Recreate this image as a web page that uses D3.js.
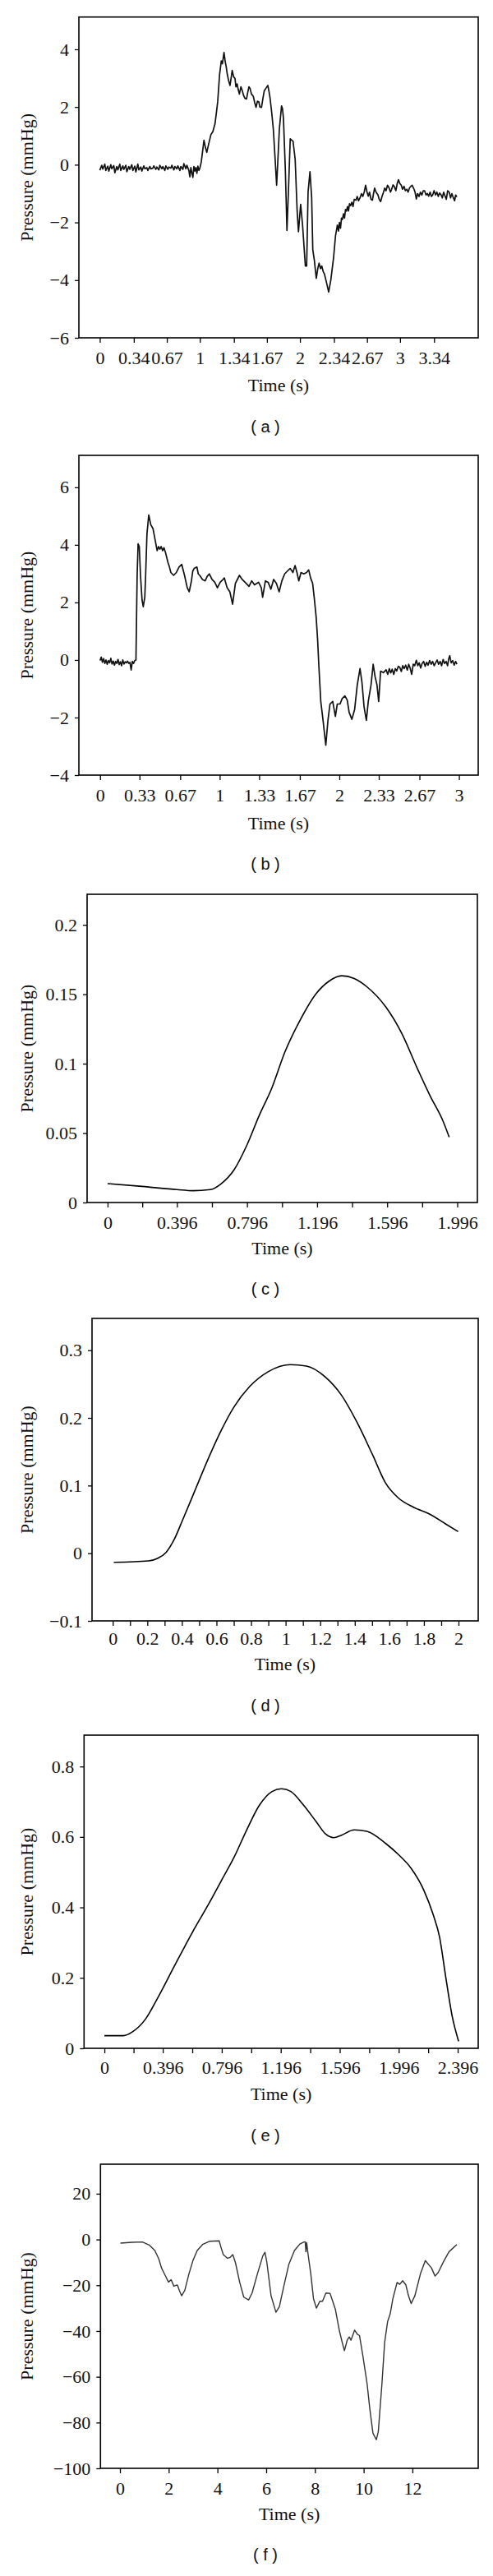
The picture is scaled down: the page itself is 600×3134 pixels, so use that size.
<!DOCTYPE html>
<html>
<head>
<meta charset="utf-8">
<script src="https://cdn.jsdelivr.net/npm/d3@7"></script>
<style>
  body { margin: 0; background: #fff; }
  svg { display: block; }
</style>
</head>
<body>
<div id="chart"></div>
<script>
// ---- (a) ----
const timeTicksA = [0, 0.34, 0.67, 1, 1.34, 1.67, 2, 2.34, 2.67, 3, 3.34];
const timeLabelsA = ['0', '0.34', '0.67', '1', '1.34', '1.67', '2', '2.34', '2.67', '3', '3.34'];
const pressureTicksA = [-6, -4, -2, 0, 2, 4];
const traceA = [
  [0.00,-0.19],[0.02,-0.02],[0.03,-0.15],[0.05,0.02],[0.06,-0.2],[0.08,-0.05],[0.09,-0.22],[0.11,0.0],[0.12,-0.14],[0.14,-0.03],
  [0.15,-0.28],[0.17,-0.06],[0.18,-0.18],[0.20,0.02],[0.21,-0.2],[0.23,-0.04],[0.24,-0.16],[0.26,-0.02],[0.27,-0.24],[0.29,-0.06],
  [0.30,-0.16],[0.32,0.0],[0.33,-0.2],[0.35,-0.05],[0.36,-0.25],[0.38,0.02],[0.39,-0.18],[0.41,-0.08],[0.42,-0.22],[0.44,-0.04],
  [0.45,-0.14],[0.47,-0.1],[0.48,-0.2],[0.50,-0.06],[0.51,-0.14],[0.53,-0.12],[0.54,-0.04],[0.56,-0.16],[0.57,-0.08],[0.59,-0.18],
  [0.60,-0.02],[0.62,-0.14],[0.63,-0.06],[0.65,-0.2],[0.66,-0.04],[0.68,-0.16],[0.69,-0.08],[0.71,-0.12],[0.72,-0.02],[0.74,-0.18],
  [0.75,-0.06],[0.77,-0.14],[0.78,-0.04],[0.80,-0.2],[0.81,-0.06],[0.83,-0.16],[0.84,0.04],[0.86,-0.14],[0.87,-0.02],[0.89,-0.2],
  [0.90,-0.42],[0.91,-0.1],[0.92,-0.28],[0.93,-0.44],[0.94,-0.06],[0.95,-0.22],[0.96,-0.1],[0.97,-0.3],[0.98,-0.05],[0.99,-0.2],
  [1.00,-0.12],[1.014,0.1],[1.041,0.85],[1.055,0.6],[1.069,0.43],[1.09,0.75],[1.11,1.04],[1.13,1.15],[1.151,1.42],[1.165,1.8],
  [1.178,2.18],[1.197,3.13],[1.214,3.6],[1.225,3.5],[1.241,3.89],[1.252,3.6],[1.263,3.4],[1.274,3.13],[1.288,2.9],[1.301,2.75],
  [1.312,3.0],[1.323,3.27],[1.337,3.05],[1.351,2.99],[1.36,2.7],[1.372,2.8],[1.383,2.61],[1.395,2.45],[1.41,2.7],[1.424,2.56],
  [1.437,2.4],[1.45,2.3],[1.466,2.28],[1.478,2.5],[1.49,2.7],[1.501,2.65],[1.515,2.45],[1.534,2.37],[1.548,2.15],[1.561,1.99],
  [1.575,2.2],[1.589,2.18],[1.6,2.0],[1.616,1.99],[1.63,2.3],[1.643,2.56],[1.66,2.65],[1.679,2.75],[1.69,2.55],[1.701,2.32],
  [1.718,1.8],[1.734,1.23],[1.75,0.3],[1.767,-0.71],[1.78,0.2],[1.794,1.23],[1.816,2.04],[1.825,1.95],[1.835,1.61],[1.854,-0.19],
  [1.87,-2.28],[1.886,-0.8],[1.903,0.9],[1.918,0.85],[1.931,0.81],[1.952,0.19],[1.972,-1.61],[1.985,-2.32],[2.007,-1.37],[2.026,-2.09],
  [2.054,-3.51],[2.067,-3.51],[2.081,-0.95],[2.1,-0.24],[2.117,-1.14],[2.128,-2.94],[2.144,-3.32],[2.163,-3.94],[2.178,-3.6],[2.191,-3.41],
  [2.205,-3.6],[2.218,-3.51],[2.232,-3.7],[2.245,-3.79],[2.265,-4.08],[2.287,-4.41],[2.309,-3.98],[2.336,-3.22],[2.355,-2.47],[2.374,-2.09],
  [2.385,-2.3],[2.395,-2.0],[2.405,-2.2],[2.415,-1.85],[2.424,-1.9],[2.435,-1.7],[2.445,-1.85],[2.455,-1.55],[2.465,-1.61],[2.475,-1.45],
  [2.485,-1.6],[2.495,-1.35],[2.506,-1.42],[2.518,-1.3],[2.53,-1.45],[2.542,-1.2],[2.56,-1.23],[2.572,-1.1],[2.585,-1.25],[2.601,-1.14],
  [2.615,-1.0],[2.628,-1.1],[2.642,-0.95],[2.656,-0.71],[2.67,-0.95],[2.683,-1.09],[2.695,-0.95],[2.71,-1.2],[2.724,-1.23],[2.735,-1.0],
  [2.746,-0.81],[2.76,-0.95],[2.779,-1.04],[2.792,-1.2],[2.806,-1.28],[2.82,-1.1],[2.835,-0.95],[2.847,-0.81],[2.86,-0.9],[2.875,-0.71],
  [2.89,-0.8],[2.905,-0.95],[2.916,-0.85],[2.93,-0.7],[2.943,-0.76],[2.958,-0.9],[2.972,-0.65],[2.984,-0.52],[2.998,-0.65],[3.012,-0.71],
  [3.025,-0.85],[3.04,-0.75],[3.053,-0.9],[3.068,-0.85],[3.08,-0.95],[3.095,-0.8],[3.108,-0.75],[3.121,-0.71],[3.14,-0.85],[3.15,-0.95],
  [3.163,-1.19],[3.175,-1.0],[3.19,-1.1],[3.204,-0.95],[3.218,-1.05],[3.232,-0.9],[3.245,-0.9],[3.26,-1.05],[3.273,-1.0],[3.286,-1.09],
  [3.3,-0.95],[3.314,-1.1],[3.327,-1.04],[3.34,-0.9],[3.355,-1.05],[3.368,-0.95],[3.382,-1.1],[3.395,-0.98],[3.409,-1.04],[3.422,-1.15],
  [3.436,-0.95],[3.45,-1.09],[3.462,-1.2],[3.476,-0.9],[3.491,-0.95],[3.505,-1.15],[3.518,-1.0],[3.532,-1.14],[3.545,-1.25],[3.556,-1.05],
  [3.567,-1.12]
];

// ---- (b) ----
const timeTicksB = [0, 0.33, 0.67, 1, 1.33, 1.67, 2, 2.33, 2.67, 3];
const timeLabelsB = ['0', '0.33', '0.67', '1', '1.33', '1.67', '2', '2.33', '2.67', '3'];
const pressureTicksB = [-4, -2, 0, 2, 4, 6];
const traceB = [
  [0.00,-0.02],[0.01,0.1],[0.02,-0.08],[0.03,0.05],[0.04,-0.12],[0.05,0.0],[0.06,-0.15],[0.07,-0.02],[0.08,-0.1],[0.09,0.06],
  [0.10,-0.14],[0.11,-0.04],[0.12,-0.18],[0.13,-0.05],[0.14,-0.12],[0.15,0.02],[0.16,-0.16],[0.17,-0.06],[0.18,-0.2],[0.19,0.0],
  [0.20,-0.14],[0.21,-0.06],[0.22,-0.1],[0.23,-0.04],[0.24,-0.12],[0.25,-0.08],[0.26,-0.35],[0.27,-0.05],[0.28,-0.12],[0.29,-0.02],
  [0.30,0.0],[0.31,2.94],[0.318,4.04],[0.328,3.94],[0.338,2.94],[0.351,2.09],[0.361,1.85],[0.374,2.18],[0.381,2.94],[0.392,4.37],
  [0.407,5.04],[0.424,4.7],[0.443,4.56],[0.46,4.18],[0.477,3.8],[0.489,3.94],[0.5,3.85],[0.511,3.94],[0.523,3.8],[0.534,3.9],
  [0.546,3.75],[0.569,3.37],[0.58,3.23],[0.592,3.04],[0.615,2.94],[0.638,3.04],[0.66,3.23],[0.683,3.32],[0.706,2.94],[0.729,2.51],
  [0.745,2.37],[0.764,2.75],[0.775,3.09],[0.787,3.18],[0.81,3.23],[0.821,2.99],[0.833,2.94],[0.856,2.8],[0.879,2.75],[0.895,2.9],
  [0.913,2.99],[0.936,2.8],[0.959,2.7],[0.981,2.51],[1.004,2.7],[1.022,2.77],[1.039,2.85],[1.062,2.51],[1.085,2.37],[1.108,1.94],
  [1.131,2.66],[1.165,2.94],[1.188,2.8],[1.222,2.66],[1.245,2.56],[1.268,2.75],[1.291,2.61],[1.325,2.7],[1.348,2.51],[1.359,2.18],
  [1.382,2.75],[1.405,2.7],[1.428,2.46],[1.451,2.8],[1.474,2.66],[1.497,2.37],[1.52,2.75],[1.543,2.99],[1.566,3.09],[1.589,3.18],
  [1.612,3.04],[1.63,3.28],[1.646,3.04],[1.661,2.75],[1.68,3.04],[1.703,2.99],[1.726,3.04],[1.744,3.13],[1.76,2.85],[1.777,2.66],
  [1.79,2.18],[1.806,1.51],[1.818,0.75],[1.829,-0.2],[1.845,-1.44],[1.864,-2.1],[1.887,-2.96],[1.905,-2.1],[1.922,-1.53],[1.945,-1.44],
  [1.967,-1.96],[1.983,-1.53],[2.006,-1.53],[2.024,-1.34],[2.047,-1.25],[2.066,-1.39],[2.082,-1.82],[2.105,-2.06],[2.128,-1.72],[2.15,-0.87],
  [2.173,-0.3],[2.189,-0.77],[2.207,-1.63],[2.226,-2.1],[2.242,-1.44],[2.265,-0.87],[2.283,-0.15],[2.299,-0.58],[2.315,-0.87],[2.329,-1.44],
  [2.345,-0.39],[2.368,-0.44],[2.391,-0.34],[2.405,-0.5],[2.418,-0.3],[2.43,-0.45],[2.442,-0.32],[2.455,-0.5],[2.468,-0.3],[2.48,-0.38],
  [2.493,-0.22],[2.505,-0.25],[2.518,-0.4],[2.53,-0.2],[2.542,-0.3],[2.555,-0.18],[2.568,-0.35],[2.58,-0.15],[2.592,-0.28],[2.605,-0.5],
  [2.618,-0.15],[2.63,-0.2],[2.644,-0.01],[2.656,-0.2],[2.668,-0.1],[2.68,-0.28],[2.692,-0.12],[2.705,-0.05],[2.718,-0.22],[2.73,-0.08],
  [2.742,-0.18],[2.755,-0.02],[2.768,-0.15],[2.78,-0.05],[2.793,-0.2],[2.805,-0.1],[2.818,0.0],[2.83,-0.15],[2.843,-0.05],[2.855,-0.2],
  [2.868,0.02],[2.88,-0.12],[2.893,-0.05],[2.905,-0.2],[2.915,0.05],[2.923,0.15],[2.935,-0.1],[2.948,-0.02],[2.96,-0.18],[2.972,-0.05],
  [2.983,-0.15]
];

// ---- (c) ----
const timeTicksC = [0, 0.198, 0.396, 0.596, 0.796, 0.996, 1.196, 1.396, 1.596, 1.796, 1.996];
const timeLabelsC = ['0', '', '0.396', '', '0.796', '', '1.196', '', '1.596', '', '1.996'];
const pressureTicksC = [0, 0.05, 0.1, 0.15, 0.2];
const traceC = [
  [0,0.0136],[0.197,0.0116],[0.396,0.0093],[0.487,0.0085],[0.586,0.0093],[0.649,0.0136],[0.722,0.0235],[0.794,0.041],
  [0.866,0.0628],[0.938,0.0826],[1.011,0.108],[1.101,0.1318],[1.191,0.1505],[1.264,0.1594],[1.336,0.1633],[1.408,0.1613],
  [1.48,0.1554],[1.589,0.1407],[1.679,0.1219],[1.769,0.0963],[1.842,0.0766],[1.914,0.0589],[1.95,0.0471]
];

// ---- (d) ----
const timeTicksD = [0, 0.1, 0.2, 0.3, 0.4, 0.5, 0.6, 0.7, 0.8, 0.9, 1, 1.1, 1.2, 1.3, 1.4, 1.5, 1.6, 1.7, 1.8, 1.9, 2];
const timeLabelsD = ['0', '', '0.2', '', '0.4', '', '0.6', '', '0.8', '', '1', '', '1.2', '', '1.4', '', '1.6', '', '1.8', '', '2'];
const pressureTicksD = [-0.1, 0, 0.1, 0.2, 0.3];
const traceD = [
  [0.006,-0.0134],[0.207,-0.0113],[0.261,-0.0073],[0.307,0.0008],[0.353,0.0191],[0.408,0.0515],[0.481,0.0961],[0.554,0.1407],
  [0.627,0.1813],[0.7,0.2157],[0.791,0.2461],[0.901,0.2685],[1.029,0.2786],[1.121,0.2766],[1.23,0.2603],[1.322,0.2339],
  [1.413,0.1934],[1.504,0.1448],[1.577,0.1043],[1.651,0.0819],[1.742,0.0677],[1.834,0.0576],[1.925,0.0434],[1.998,0.032]
];

// ---- (e) ----
const timeTicksE = [0, 0.198, 0.396, 0.596, 0.796, 0.996, 1.196, 1.396, 1.596, 1.796, 1.996, 2.196, 2.396];
const timeLabelsE = ['0', '', '0.396', '', '0.796', '', '1.196', '', '1.596', '', '1.996', '', '2.396'];
const pressureTicksE = [0, 0.2, 0.4, 0.6, 0.8];
const traceE = [
  [0,0.0358],[0.128,0.0358],[0.193,0.0475],[0.278,0.0825],[0.364,0.145],[0.471,0.2306],[0.6,0.3318],[0.707,0.4096],
  [0.793,0.4759],[0.879,0.542],[0.965,0.62],[1.051,0.69],[1.137,0.729],[1.201,0.7367],[1.265,0.729],[1.351,0.69],
  [1.437,0.643],[1.501,0.608],[1.555,0.598],[1.608,0.605],[1.694,0.62],[1.78,0.616],[1.909,0.581],[1.994,0.55],
  [2.08,0.511],[2.166,0.449],[2.23,0.379],[2.273,0.316],[2.316,0.199],[2.359,0.09],[2.402,0.02]
];

// ---- (f) ----
const timeTicksF = [0, 2, 4, 6, 8, 10, 12];
const timeLabelsF = ['0', '2', '4', '6', '8', '10', '12'];
const pressureTicksF = [-100, -80, -60, -40, -20, 0, 20];
const traceF = [
  [0.02,-1.6],[0.5,-1.2],[0.92,-1.1],[1.2,-2.4],[1.43,-4.8],[1.59,-8.4],[1.71,-12.6],[1.8,-14.5],[1.88,-16.2],[1.99,-18.6],
  [2.1,-17.6],[2.21,-20.4],[2.3,-20],[2.36,-20],[2.44,-22.4],[2.53,-24.6],[2.66,-22.2],[2.83,-15],[3.0,-9],[3.17,-4.8],
  [3.39,-2.2],[3.67,-0.8],[4.07,-0.6],[4.15,-3.6],[4.24,-6.6],[4.41,-8.2],[4.52,-7.8],[4.63,-6.6],[4.74,-10.2],[4.91,-18.6],
  [5.08,-25.2],[5.28,-26.4],[5.42,-23.4],[5.64,-15],[5.86,-7.2],[5.95,-5.6],[6.03,-10.2],[6.2,-24.6],[6.4,-31.8],[6.54,-29.4],
  [6.71,-21],[6.93,-10.8],[7.16,-4.8],[7.38,-2],[7.55,-1.1],[7.6,-1.0],[7.63,-5.4],[7.66,-1.3],[7.72,-6.6],[7.83,-15],
  [7.94,-25.8],[8.06,-30],[8.2,-27],[8.31,-27],[8.45,-23.4],[8.62,-23.6],[8.73,-27],[8.84,-30.6],[9.01,-40.2],[9.12,-45],
  [9.21,-48.6],[9.33,-43.8],[9.41,-42.6],[9.48,-44],[9.63,-39.6],[9.74,-41.4],[9.83,-42],[9.97,-51],[10.14,-63],[10.25,-73.8],
  [10.38,-84.6],[10.52,-87.5],[10.6,-84],[10.75,-63],[10.86,-45],[10.98,-36],[11.09,-32.4],[11.2,-25.8],[11.37,-18.8],[11.48,-19.6],
  [11.6,-18],[11.73,-19.8],[11.84,-24.6],[11.95,-28],[12.1,-24.6],[12.33,-15],[12.53,-9.2],[12.7,-11.4],[12.78,-12.4],[12.93,-16],
  [13.06,-14.4],[13.28,-9.6],[13.5,-5.4],[13.82,-2.2]
];

const serif = '"Liberation Serif", "Times New Roman", serif';
const sans = '"Liberation Sans", Arial, sans-serif';

const svg = d3.select('#chart').append('svg')
  .attr('width', 600)
  .attr('height', 3134);

// layout per panel (pixel box, axis domains, label offsets)
const panels = [
  { cap: 'a', box: { l: 96, r: 582, t: 20.7, b: 411 }, xd: [-0.209, 3.781], yd: [-6, 5.12],
    xt: timeTicksA, xl: timeLabelsA, yt: pressureTicksA, data: traceA, curve: d3.curveLinear,
    lw: 1.7, color: '#111', padX: 10, titleGap: 58, capGap: 108 },
  { cap: 'b', box: { l: 96, r: 582, t: 554, b: 943 }, xd: [-0.177, 3.161], yd: [-4, 7.11],
    xt: timeTicksB, xl: timeLabelsB, yt: pressureTicksB, data: traceB, curve: d3.curveLinear,
    lw: 1.7, color: '#111', padX: 10, titleGap: 59, capGap: 108 },
  { cap: 'c', box: { l: 106, r: 581, t: 1088, b: 1463 }, xd: [-0.117, 2.111], yd: [0, 0.222],
    xt: timeTicksC, xl: timeLabelsC, yt: pressureTicksC, data: traceC, curve: d3.curveMonotoneX,
    lw: 1.6, color: '#000', padX: 10, titleGap: 56, capGap: 105 },
  { cap: 'd', box: { l: 112, r: 582, t: 1604, b: 1972 }, xd: [-0.12, 2.114], yd: [-0.1, 0.347],
    xt: timeTicksD, xl: timeLabelsD, yt: pressureTicksD, data: traceD, curve: d3.curveMonotoneX,
    lw: 1.6, color: '#000', padX: 7, titleGap: 53, capGap: 103 },
  { cap: 'e', box: { l: 102.3, r: 582, t: 2111, b: 2492 }, xd: [-0.138, 2.535], yd: [0, 0.889],
    xt: timeTicksE, xl: timeLabelsE, yt: pressureTicksE, data: traceE, curve: d3.curveMonotoneX,
    lw: 1.6, color: '#000', padX: 9, titleGap: 56, capGap: 106 },
  { cap: 'f', box: { l: 122.3, r: 582, t: 2633, b: 3003 }, xd: [-0.8, 14.7], yd: [-100, 32.9],
    xt: timeTicksF, xl: timeLabelsF, yt: pressureTicksF, data: traceF, curve: d3.curveLinear,
    lw: 1.4, color: '#333', padX: 10, titleGap: 56, capGap: 105 }
];

const fmtY = d => String(d).replace('-', '\u2212');

panels.forEach(p => {
  const g = svg.append('g');
  const x = d3.scaleLinear().domain(p.xd).range([p.box.l, p.box.r]);
  const y = d3.scaleLinear().domain(p.yd).range([p.box.b, p.box.t]);

  // x axis
  const xa = g.append('g')
    .attr('transform', `translate(0,${p.box.b})`)
    .call(d3.axisBottom(x).tickValues(p.xt).tickFormat((d, i) => p.xl[i])
      .tickSize(6).tickSizeOuter(0).tickPadding(p.padX));
  xa.select('.domain').remove();

  // y axis
  const ya = g.append('g')
    .attr('transform', `translate(${p.box.l},0)`)
    .call(d3.axisLeft(y).tickValues(p.yt).tickFormat(fmtY)
      .tickSize(5).tickSizeOuter(0).tickPadding(7));
  ya.select('.domain').remove();

  g.selectAll('.tick line').attr('stroke', '#000').attr('stroke-width', 1.3);
  g.selectAll('.tick text')
    .attr('font-family', serif)
    .attr('font-size', '22px')
    .attr('fill', '#111');

  // trace
  g.append('path')
    .datum(p.data)
    .attr('fill', 'none')
    .attr('stroke', p.color)
    .attr('stroke-width', p.lw)
    .attr('stroke-linejoin', 'round')
    .attr('d', d3.line().x(d => x(d[0])).y(d => y(d[1])).curve(p.curve));

  // frame
  g.append('rect')
    .attr('x', p.box.l).attr('y', p.box.t)
    .attr('width', p.box.r - p.box.l).attr('height', p.box.b - p.box.t)
    .attr('fill', 'none')
    .attr('stroke', '#000')
    .attr('stroke-width', 1.6);

  // axis titles
  g.append('text')
    .text('Time (s)')
    .attr('x', (p.box.l + p.box.r) / 2)
    .attr('y', p.box.b + p.titleGap)
    .attr('dy', '0.3em')
    .attr('text-anchor', 'middle')
    .attr('font-family', serif)
    .attr('font-size', '22px')
    .attr('fill', '#111');

  g.append('text')
    .text('Pressure (mmHg)')
    .attr('transform', `translate(40,${(p.box.t + p.box.b) / 2}) rotate(-90)`)
    .attr('text-anchor', 'middle')
    .attr('font-family', serif)
    .attr('font-size', '22px')
    .attr('fill', '#111');

  // panel caption
  g.append('text')
    .text(`( ${p.cap} )`)
    .attr('x', 323)
    .attr('y', p.box.b + p.capGap)
    .attr('dy', '0.35em')
    .attr('text-anchor', 'middle')
    .attr('font-family', sans)
    .attr('font-size', '20px')
    .attr('fill', '#111');
});
</script>
</body>
</html>
